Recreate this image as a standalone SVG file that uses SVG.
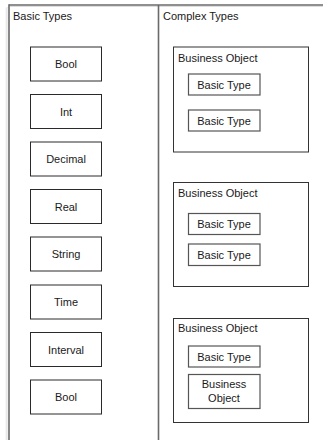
<svg xmlns="http://www.w3.org/2000/svg" width="323" height="440" viewBox="0 0 323 440">
<style>
text{font-family:"Liberation Sans",Arial,sans-serif;font-size:11px;fill:#1a1a1a}
.c{text-anchor:middle}
.t{fill:#fff;stroke:#2a2a2a;stroke-width:1}
.bo{fill:#fff;stroke:#333;stroke-width:1}
.in{fill:#fff;stroke:#555;stroke-width:1.2}
.frame{stroke:#6a6a6a;stroke-width:1.6;fill:none}
</style>
<rect width="323" height="440" fill="#fff"/>
<g id="shadow">
<line x1="6" y1="8" x2="6" y2="440" stroke="#eee" stroke-width="1"/>
<line x1="7" y1="7" x2="7" y2="440" stroke="#ddd" stroke-width="1"/>
<line x1="10" y1="6.5" x2="323" y2="6.5" stroke="#ddd" stroke-width="1"/>
</g>
<g id="frame">
<line class="frame" x1="9" y1="5" x2="323" y2="5"/>
<line class="frame" x1="9" y1="4.2" x2="9" y2="440"/>
<line class="frame" x1="158.5" y1="5" x2="158.5" y2="440"/>
</g>
<g id="basic-types">
<text x="13" y="20">Basic Types</text>
<g id="bool1"><rect class="t" x="30.5" y="47" width="71" height="34"/><text class="c" x="66" y="68">Bool</text></g>
<g id="int"><rect class="t" x="30.5" y="94.5" width="71" height="34"/><text class="c" x="66" y="115.5">Int</text></g>
<g id="decimal"><rect class="t" x="30.5" y="142" width="71" height="34"/><text class="c" x="66" y="163">Decimal</text></g>
<g id="real"><rect class="t" x="30.5" y="189.5" width="71" height="34"/><text class="c" x="66" y="210.5">Real</text></g>
<g id="string"><rect class="t" x="30.5" y="237" width="71" height="34"/><text class="c" x="66" y="258">String</text></g>
<g id="time"><rect class="t" x="30.5" y="285" width="71" height="34"/><text class="c" x="66" y="306">Time</text></g>
<g id="interval"><rect class="t" x="30.5" y="332.5" width="71" height="34"/><text class="c" x="66" y="353.5">Interval</text></g>
<g id="bool2"><rect class="t" x="30.5" y="380" width="71" height="34"/><text class="c" x="66" y="401">Bool</text></g>
</g>
<g id="complex-types">
<text x="163" y="20">Complex Types</text>
<g id="bo1">
<rect class="bo" x="173.5" y="47" width="135" height="105"/>
<text x="178" y="62">Business Object</text>
<g id="bo1-bt1"><rect class="in" x="188.5" y="74" width="71.5" height="21"/><text class="c" x="224" y="88.5">Basic Type</text></g>
<g id="bo1-bt2"><rect class="in" x="188.5" y="110" width="71.5" height="21"/><text class="c" x="224" y="124.5">Basic Type</text></g>
</g>
<g id="bo2">
<rect class="bo" x="173.5" y="182.5" width="135" height="104"/>
<text x="178" y="197">Business Object</text>
<g id="bo2-bt1"><rect class="in" x="188.5" y="213.5" width="71.5" height="21"/><text class="c" x="224" y="228">Basic Type</text></g>
<g id="bo2-bt2"><rect class="in" x="188.5" y="244" width="71.5" height="21.5"/><text class="c" x="224" y="258.5">Basic Type</text></g>
</g>
<g id="bo3">
<rect class="bo" x="173.5" y="318.5" width="135" height="104"/>
<text x="178" y="332">Business Object</text>
<g id="bo3-bt1"><rect class="in" x="188.5" y="346" width="71.5" height="21"/><text class="c" x="224" y="360.5">Basic Type</text></g>
<g id="bo3-bo"><rect class="in" x="188.5" y="374.5" width="71.5" height="34"/><text class="c" x="224" y="388">Business</text><text class="c" x="224" y="401.5">Object</text></g>
</g>
</g>
</svg>
